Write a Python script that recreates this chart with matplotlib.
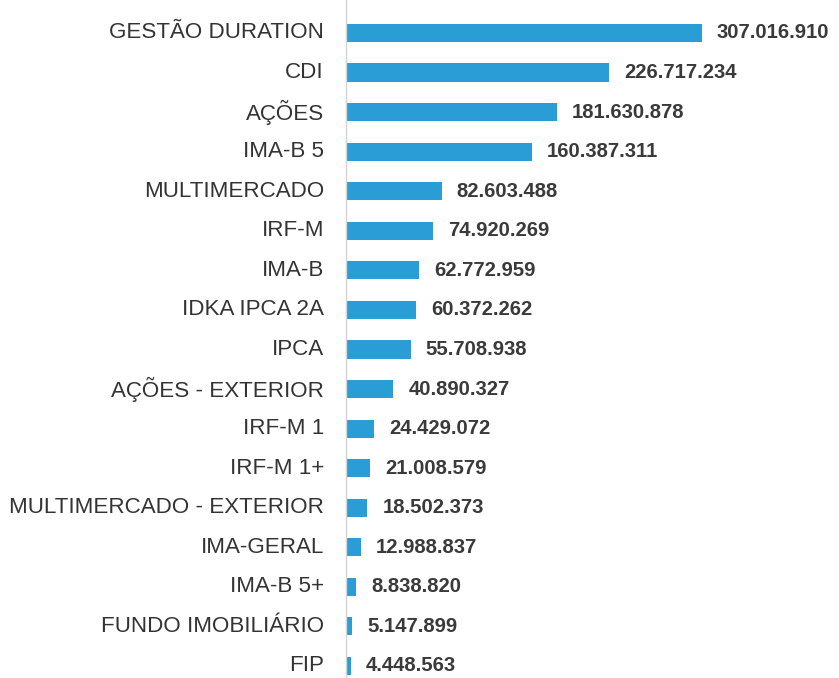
import matplotlib.pyplot as plt

# patrimônio por segmento (R$)
categorias = ['GESTÃO DURATION', 'CDI', 'AÇÕES', 'IMA-B 5', 'MULTIMERCADO',
              'IRF-M', 'IMA-B', 'IDKA IPCA 2A', 'IPCA', 'AÇÕES - EXTERIOR',
              'IRF-M 1', 'IRF-M 1+', 'MULTIMERCADO - EXTERIOR', 'IMA-GERAL',
              'IMA-B 5+', 'FUNDO IMOBILIÁRIO', 'FIP']
valores = [307016910, 226717234, 181630878, 160387311, 82603488,
           74920269, 62772959, 60372262, 55708938, 40890327,
           24429072, 21008579, 18502373, 12988837,
           8838820, 5147899, 4448563]

def fmt(v):
    return f'{v:,}'.replace(',', '.')

W, H = 839, 678
fig = plt.figure(figsize=(W / 100, H / 100), dpi=100)
x0 = 346
ax = fig.add_axes([x0 / W, 0, 1 - x0 / W, 1])

pos = list(range(len(categorias)))
ax.barh(pos, valores, height=0.46, color='#2b9dd6', left=0)

# escala: 307 mi termina em ~702 px
esc = valores[0] / (702 - x0)
ax.set_xlim(0, (W - x0) * esc)
ax.set_ylim((H - 33) / 39.56, -33 / 39.56)

for p, v in zip(pos, valores):
    ax.text(v + 15 * esc, p, fmt(v), va='center', ha='left',
            fontsize=14.6, fontweight='bold', color='#3a3a3a',
            family='Liberation Sans')
    ax.text(-22 * esc, p, categorias[p], va='center', ha='right',
            fontsize=16.1, color='#333333', family='Liberation Sans')

for s in ['top', 'right', 'bottom']:
    ax.spines[s].set_visible(False)
ax.spines['left'].set_color('#d4d4d4')
ax.spines['left'].set_linewidth(1)
ax.set_xticks([])
ax.set_yticks([])

fig.savefig('out.png', dpi=100)
